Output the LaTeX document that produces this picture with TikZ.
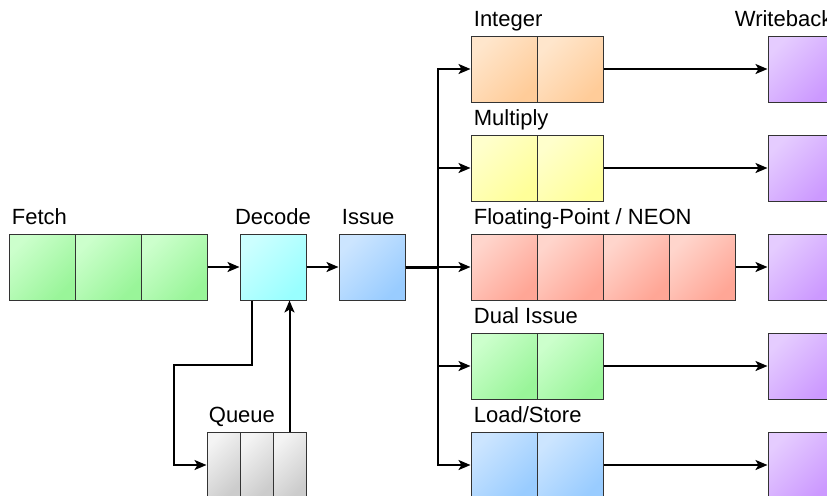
\documentclass[tikz,border=0pt]{standalone}
\usepackage{fontspec}
\setmainfont{Liberation Sans}
\usepackage{xcolor}
\usetikzlibrary{arrows.meta}

\definecolor{greenA}{HTML}{CCFFCC}  \definecolor{greenB}{HTML}{99F599}
\definecolor{cyanA}{HTML}{CCFFFF}   \definecolor{cyanB}{HTML}{99FFFF}
\definecolor{blueA}{HTML}{CCE5FF}   \definecolor{blueB}{HTML}{99CCFF}
\definecolor{orangeA}{HTML}{FFE6CC} \definecolor{orangeB}{HTML}{FFCC99}
\definecolor{yellowA}{HTML}{FFFFCC} \definecolor{yellowB}{HTML}{FFFF99}
\definecolor{redA}{HTML}{FFD5CC}    \definecolor{redB}{HTML}{FFA696}
\definecolor{purpleA}{HTML}{E5CCFF} \definecolor{purpleB}{HTML}{CC99FF}
\definecolor{grayA}{HTML}{F4F4F4}   \definecolor{grayB}{HTML}{CCCCCC}

\tikzset{
  cell/.style={draw=black!80, line width=0.5pt, minimum width=33pt,
    minimum height=33pt, inner sep=0pt},
  fill2/.style 2 args={top color=#1, bottom color=#2, shading angle=45},
  slot/.style={cell, minimum width=16.5pt, fill2={grayA}{grayB}},
  stagelbl/.style={inner sep=0pt, font=\fontsize{11}{13}\selectfont},
  flow/.style={line width=1pt, -{Stealth[length=6pt,width=5pt,inset=1.5pt]}},
  bus/.style={line width=1.5pt}
}

\begin{document}
\begin{tikzpicture}[x=0.5pt, y=-0.5pt]
\useasboundingbox (0,0) rectangle (827,495);

% front end
\foreach \i/\x in {1/42, 2/108, 3/174}
  \node[cell, fill2={greenA}{greenB}] (fetch\i) at (\x,267) {};
\node[cell, fill2={cyanA}{cyanB}] (decode) at (273,267) {};
\node[cell, fill2={blueA}{blueB}] (issue) at (372,267) {};
\foreach \i/\x in {1/223.5, 2/256.5, 3/289.5}
  \node[slot] (queue\i) at (\x,465) {};

% execution units
\foreach \i/\x in {1/504, 2/570} {
  \node[cell, fill2={orangeA}{orangeB}] (int\i) at (\x,69) {};
  \node[cell, fill2={yellowA}{yellowB}] (mul\i) at (\x,168) {};
  \node[cell, fill2={greenA}{greenB}] (dual\i) at (\x,366) {};
  \node[cell, fill2={blueA}{blueB}] (ls\i) at (\x,465) {};
}
\foreach \i/\x in {1/504, 2/570, 3/636, 4/702}
  \node[cell, fill2={redA}{redB}] (fp\i) at (\x,267) {};
\foreach \i/\y in {1/69, 2/168, 3/267, 4/366, 5/465}
  \node[cell, fill2={purpleA}{purpleB}] (wb\i) at (801,\y) {};

% stage names
\node[stagelbl, anchor=base west] (fetchlbl) at ([xshift=1.5pt,yshift=4.5pt]fetch1.north west) {Fetch};
\node[stagelbl, anchor=base] (decodelbl) at ([yshift=4.5pt]decode.north) {Decode};
\node[stagelbl, anchor=base west] (issuelbl) at ([xshift=1.5pt,yshift=4.5pt]issue.north west) {Issue};
\node[stagelbl, anchor=base west] (queuelbl) at ([xshift=1pt,yshift=4.5pt]queue1.north west) {Queue};
\node[stagelbl, anchor=base west] (intlbl) at ([xshift=1.5pt,yshift=4.5pt]int1.north west) {Integer};
\node[stagelbl, anchor=base west] (mullbl) at ([xshift=1.5pt,yshift=4.5pt]mul1.north west) {Multiply};
\node[stagelbl, anchor=base west] (fplbl) at ([xshift=1.5pt,yshift=4.5pt]fp1.north west) {Floating-Point / NEON};
\node[stagelbl, anchor=base west] (duallbl) at ([xshift=1.5pt,yshift=4.5pt]dual1.north west) {Dual Issue};
\node[stagelbl, anchor=base west] (lslbl) at ([xshift=1.5pt,yshift=4.5pt]ls1.north west) {Load/Store};
\node[stagelbl, anchor=base west] (wblbl) at ([xshift=-16.5pt,yshift=4.5pt]wb1.north west) {Writeback};

% connections
\draw[flow] (fetch3) -- (decode);
\draw[flow] (decode) -- (issue);
\coordinate (busx) at (438,267);
\coordinate (qturn) at (174,365);
\draw[flow] ([xshift=6pt]decode.south west) |- (qturn) |- (queue1.west);
\draw[flow] (queue3.north) -- (queue3.north |- decode.south);
\draw[bus] (issue.east) -- (busx);
\foreach \u in {int1, mul1, fp1, dual1, ls1}
  \draw[flow] (issue.east) -- (busx) |- (\u.west);
\foreach \u/\w in {int2/wb1, mul2/wb2, fp4/wb3, dual2/wb4, ls2/wb5}
  \draw[flow] (\u) -- (\w);
\end{tikzpicture}
\end{document}
